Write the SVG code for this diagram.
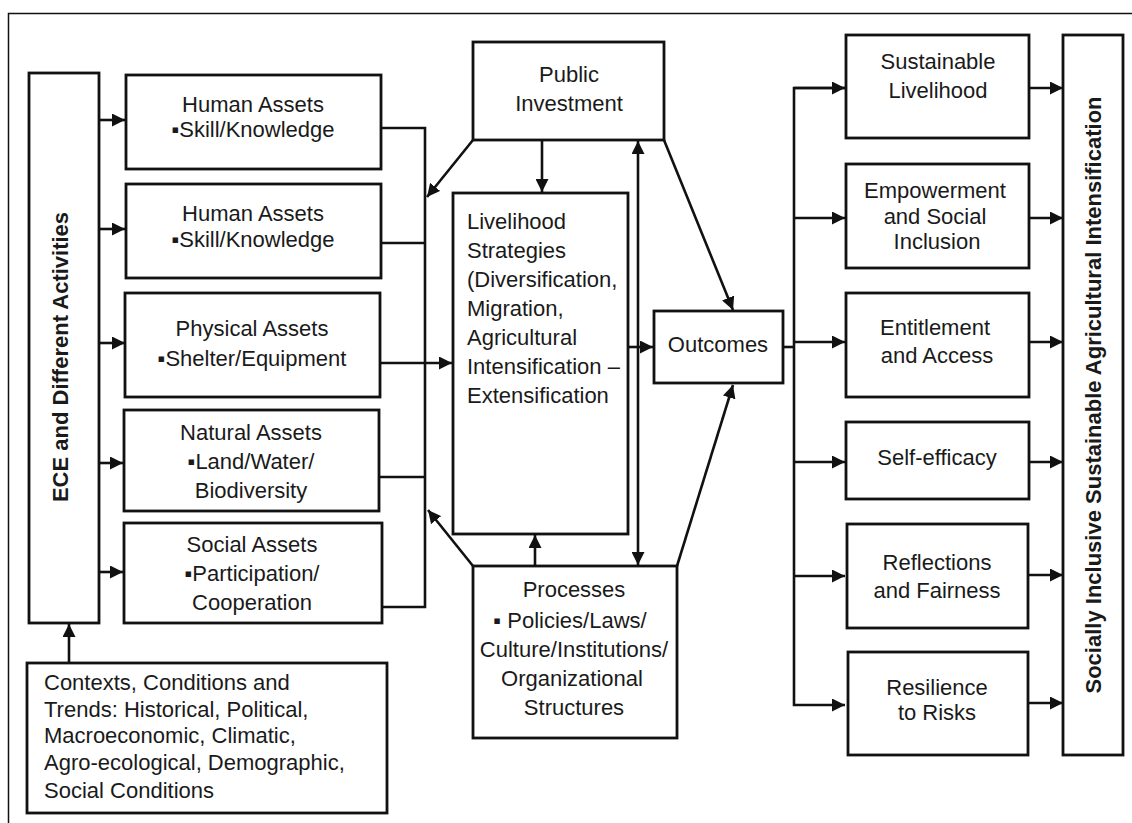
<svg xmlns="http://www.w3.org/2000/svg" width="1132" height="823" viewBox="0 0 1132 823">
<style>
.box{fill:#fff;stroke:#111;stroke-width:2.8}
.t{font-family:"Liberation Sans",Arial,sans-serif;font-size:22px;fill:#1a1a1a}
.c{text-anchor:middle}
.b{font-weight:bold}
.ln{fill:none;stroke:#111;stroke-width:2.6}
.ar{fill:none;stroke:#111;stroke-width:2.6;marker-end:url(#ah)}
</style>
<defs>
<marker id="ah" markerUnits="userSpaceOnUse" markerWidth="13" markerHeight="13" refX="13" refY="6.5" orient="auto">
<path d="M0,0 L13,6.5 L0,13 z" fill="#111"/>
</marker>
<marker id="ahs" markerUnits="userSpaceOnUse" markerWidth="13" markerHeight="13" refX="13" refY="6.5" orient="auto-start-reverse">
<path d="M0,0 L13,6.5 L0,13 z" fill="#111"/>
</marker>
</defs>
<rect width="1132" height="823" fill="#fff"/>
<path d="M8.5,823 V13.5 H1132" fill="none" stroke="#111" stroke-width="1.5"/>

<g id="connectors">
<!-- ECE to assets -->
<line class="ar" x1="99" y1="120" x2="125" y2="120"/>
<line class="ar" x1="99" y1="229" x2="125" y2="229"/>
<line class="ar" x1="99" y1="343" x2="125" y2="343"/>
<line class="ar" x1="99" y1="463" x2="123" y2="463"/>
<line class="ar" x1="99" y1="572" x2="123" y2="572"/>
<!-- contexts to ECE -->
<line class="ar" x1="69" y1="663" x2="69" y2="624"/>
<!-- collector -->
<path class="ln" d="M381,128 H425 V607 H382"/>
<line class="ln" x1="381" y1="243" x2="425" y2="243"/>
<line class="ln" x1="379" y1="477" x2="425" y2="477"/>
<!-- physical to livelihood -->
<line class="ar" x1="380" y1="363" x2="452" y2="363"/>
<!-- public investment arrows -->
<line class="ar" x1="473" y1="140" x2="427" y2="197"/>
<line class="ar" x1="542" y1="140" x2="542" y2="192"/>
<line class="ar" x1="664" y1="140" x2="733" y2="310"/>
<!-- double arrow -->
<line class="ln" x1="638" y1="141" x2="638" y2="565" marker-start="url(#ahs)" marker-end="url(#ah)"/>
<!-- processes arrows -->
<line class="ar" x1="473" y1="566" x2="428" y2="510"/>
<line class="ar" x1="535" y1="566" x2="535" y2="535"/>
<line class="ar" x1="677" y1="566" x2="733" y2="385"/>
<!-- livelihood to outcomes -->
<line class="ar" x1="628" y1="347" x2="653" y2="347"/>
<!-- distributor -->
<path class="ln" d="M783,347 H794"/>
<path class="ar" d="M845,88 H794 V705 H845" marker-end="url(#ah)"/>
<path class="ar" d="M794,88 H845"/>
<line class="ar" x1="794" y1="218" x2="845" y2="218"/>
<line class="ar" x1="794" y1="342" x2="845" y2="342"/>
<line class="ar" x1="794" y1="462" x2="845" y2="462"/>
<line class="ar" x1="794" y1="576" x2="845" y2="576"/>
<!-- outputs to final -->
<line class="ar" x1="1029" y1="88" x2="1063" y2="88"/>
<line class="ar" x1="1029" y1="218" x2="1063" y2="218"/>
<line class="ar" x1="1029" y1="342" x2="1063" y2="342"/>
<line class="ar" x1="1029" y1="462" x2="1063" y2="462"/>
<line class="ar" x1="1029" y1="575" x2="1063" y2="575"/>
<line class="ar" x1="1029" y1="703" x2="1063" y2="703"/>
</g>

<g id="ece">
<rect class="box" x="29" y="73" width="70" height="550"/>
<text class="t b c" transform="translate(68,357) rotate(-90)">ECE and Different Activities</text>
</g>

<g id="human1">
<rect class="box" x="126" y="75" width="255" height="94"/>
<text class="t c" x="253" y="112">Human Assets</text>
<text class="t c" x="253" y="137">▪Skill/Knowledge</text>
</g>
<g id="human2">
<rect class="box" x="126" y="184" width="255" height="94"/>
<text class="t c" x="253" y="221">Human Assets</text>
<text class="t c" x="253" y="247">▪Skill/Knowledge</text>
</g>
<g id="physical">
<rect class="box" x="125" y="293" width="255" height="104"/>
<text class="t c" x="252" y="336">Physical Assets</text>
<text class="t c" x="252" y="366">▪Shelter/Equipment</text>
</g>
<g id="natural">
<rect class="box" x="124" y="410" width="255" height="101"/>
<text class="t c" x="251" y="440">Natural Assets</text>
<text class="t c" x="251" y="469">▪Land/Water/</text>
<text class="t c" x="251" y="498">Biodiversity</text>
</g>
<g id="social">
<rect class="box" x="124" y="523" width="258" height="100"/>
<text class="t c" x="252" y="552">Social Assets</text>
<text class="t c" x="252" y="581">▪Participation/</text>
<text class="t c" x="252" y="610">Cooperation</text>
</g>

<g id="contexts">
<rect class="box" x="27" y="663" width="360" height="150"/>
<text class="t" x="44" y="690">Contexts, Conditions and</text>
<text class="t" x="44" y="717">Trends: Historical, Political,</text>
<text class="t" x="44" y="743">Macroeconomic, Climatic,</text>
<text class="t" x="44" y="770">Agro-ecological, Demographic,</text>
<text class="t" x="44" y="798">Social Conditions</text>
</g>

<g id="public">
<rect class="box" x="473" y="42" width="191" height="98"/>
<text class="t c" x="569" y="82">Public</text>
<text class="t c" x="569" y="111">Investment</text>
</g>

<g id="livelihood">
<rect class="box" x="453" y="193" width="175" height="341"/>
<text class="t" x="467" y="229">Livelihood</text>
<text class="t" x="467" y="258">Strategies</text>
<text class="t" x="467" y="287">(Diversification,</text>
<text class="t" x="467" y="316">Migration,</text>
<text class="t" x="467" y="345">Agricultural</text>
<text class="t" x="467" y="374">Intensification –</text>
<text class="t" x="467" y="403">Extensification</text>
</g>

<g id="outcomes">
<rect class="box" x="654" y="311" width="129" height="72"/>
<text class="t c" x="718" y="352">Outcomes</text>
</g>

<g id="processes">
<rect class="box" x="473" y="566" width="204" height="172"/>
<text class="t c" x="574" y="597">Processes</text>
<text class="t c" x="570" y="628">▪ Policies/Laws/</text>
<text class="t c" x="574" y="657">Culture/Institutions/</text>
<text class="t c" x="572" y="686">Organizational</text>
<text class="t c" x="574" y="715">Structures</text>
</g>

<g id="sustainable">
<rect class="box" x="846" y="35" width="183" height="103"/>
<text class="t c" x="938" y="69">Sustainable</text>
<text class="t c" x="938" y="98">Livelihood</text>
</g>
<g id="empowerment">
<rect class="box" x="846" y="164" width="183" height="104"/>
<text class="t c" x="935" y="198">Empowerment</text>
<text class="t c" x="935" y="224">and Social</text>
<text class="t c" x="937" y="249">Inclusion</text>
</g>
<g id="entitlement">
<rect class="box" x="846" y="293" width="183" height="104"/>
<text class="t c" x="935" y="335">Entitlement</text>
<text class="t c" x="937" y="363">and Access</text>
</g>
<g id="selfefficacy">
<rect class="box" x="846" y="422" width="183" height="77"/>
<text class="t c" x="937" y="465">Self-efficacy</text>
</g>
<g id="reflections">
<rect class="box" x="847" y="524" width="181" height="104"/>
<text class="t c" x="937" y="570">Reflections</text>
<text class="t c" x="937" y="598">and Fairness</text>
</g>
<g id="resilience">
<rect class="box" x="848" y="652" width="180" height="103"/>
<text class="t c" x="937" y="695">Resilience</text>
<text class="t c" x="937" y="720">to Risks</text>
</g>

<g id="final">
<rect class="box" x="1063" y="35" width="60" height="720"/>
<text class="t b c" transform="translate(1101,395) rotate(-90)">Socially Inclusive Sustainable Agricultural Intensification</text>
</g>
</svg>
